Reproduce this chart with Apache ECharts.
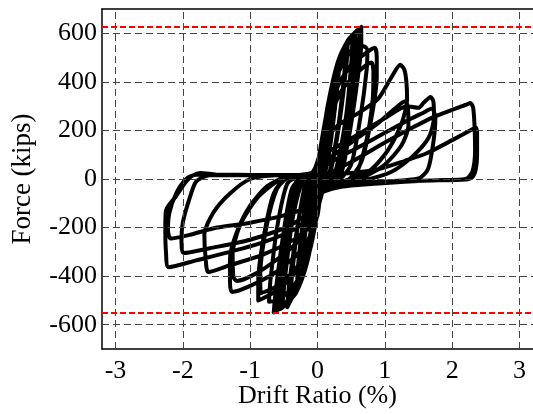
<!DOCTYPE html>
<html>
<head>
<meta charset="utf-8">
<script src="https://cdn.jsdelivr.net/npm/echarts@6/dist/echarts.min.js"></script>
<style>
  html, body { margin: 0; padding: 0; background: #fff; }
  #chart { width: 533px; height: 414px; }
</style>
</head>
<body>
<div id="chart"></div>
<script>
// tick labels
const xTicks = [-3, -2, -1, 0, 1, 2, 3]
const yTicks = [-600, -400, -200, 0, 200, 400, 600]
// capacity lines (kips)
const limitLines = [625, -550]

// hysteresis loops, [drift ratio %, force kips]
const loop01 = [[0, 0], [0.05, 90], [0.1, 170], [0.12, 205], [0.1, 160], [0.04, 40], [0, -20], [-0.05, -100], [-0.1, -180], [-0.12, -210], [-0.1, -160], [-0.04, -30], [0, 20]]
const loop02 = [[0.05, 100], [0.12, 210], [0.2, 310], [0.22, 335], [0.19, 260], [0.12, 90], [0.05, -10], [0, -70], [-0.08, -190], [-0.16, -290], [-0.22, -340], [-0.2, -270], [-0.12, -80], [-0.05, 15]]
const loop03 = [[0.02, 70], [0.12, 230], [0.22, 370], [0.3, 440], [0.32, 450], [0.28, 340], [0.18, 120], [0.08, -15], [0.02, -70], [-0.08, -220], [-0.18, -350], [-0.28, -420], [-0.3, -425], [-0.26, -320], [-0.15, -60], [-0.06, 15]]
const loop03b = [[0, 40], [0.1, 200], [0.2, 340], [0.28, 420], [0.3, 430], [0.26, 300], [0.15, 80], [0.05, -20], [-0.02, -100], [-0.12, -270], [-0.22, -370], [-0.3, -410], [-0.28, -330], [-0.18, -100], [-0.08, 10]]
const loop04 = [[0, 50], [0.12, 250], [0.25, 420], [0.38, 520], [0.45, 560], [0.43, 470], [0.33, 240], [0.2, 40], [0.06, -20], [0, -90], [-0.1, -250], [-0.25, -410], [-0.38, -490], [-0.45, -528], [-0.42, -430], [-0.3, -200], [-0.17, -10], [-0.06, 16]]
const loop04b = [[-0.02, 30], [0.1, 220], [0.22, 390], [0.35, 500], [0.42, 540], [0.4, 440], [0.3, 200], [0.16, 10], [0.03, -40], [-0.06, -200], [-0.2, -380], [-0.34, -470], [-0.4, -500], [-0.38, -400], [-0.27, -150], [-0.12, 5]]
const loop05 = [[0.01, 60], [0.15, 300], [0.3, 480], [0.45, 570], [0.55, 595], [0.56, 580], [0.5, 420], [0.38, 180], [0.24, 10], [0.08, -25], [0.02, -100], [-0.12, -290], [-0.3, -450], [-0.5, -520], [-0.58, -535], [-0.55, -440], [-0.42, -200], [-0.26, -5], [-0.1, 18]]
const loop05b = [[0.02, 80], [0.18, 340], [0.32, 490], [0.46, 560], [0.52, 580], [0.5, 470], [0.42, 250], [0.28, 40], [0.12, -20], [0, -130], [-0.15, -340], [-0.32, -470], [-0.48, -515], [-0.52, -520], [-0.48, -400], [-0.36, -150], [-0.2, 5], [-0.05, 18]]
const loop06 = [[0, 45], [0.15, 280], [0.3, 470], [0.45, 570], [0.58, 610], [0.65, 626], [0.65, 560], [0.58, 380], [0.45, 150], [0.3, 10], [0.1, -25], [0.03, -90], [-0.1, -280], [-0.3, -440], [-0.5, -520], [-0.62, -545], [-0.65, -549], [-0.62, -460], [-0.52, -250], [-0.38, -40], [-0.2, 12], [-0.08, 18]]
const loop06b = [[0, 40], [0.2, 330], [0.38, 520], [0.5, 580], [0.6, 605], [0.62, 590], [0.6, 470], [0.5, 250], [0.36, 30], [0.15, -25], [0.02, -80], [-0.12, -300], [-0.32, -460], [-0.52, -530], [-0.6, -540], [-0.58, -450], [-0.46, -200], [-0.3, 0], [-0.12, 17]]
const loop07 = [[0, 50], [0.15, 290], [0.3, 470], [0.45, 555], [0.56, 581], [0.57, 520], [0.5, 330], [0.38, 110], [0.22, -10], [0.06, -30], [0, -120], [-0.15, -320], [-0.35, -470], [-0.5, -520], [-0.55, -525], [-0.52, -420], [-0.42, -200], [-0.3, -20], [-0.12, 16]]
const loop08 = [[0, 55], [0.15, 270], [0.3, 430], [0.45, 510], [0.6, 550], [0.7, 545], [0.74, 532], [0.73, 450], [0.64, 260], [0.5, 60], [0.3, -10], [0.08, -30], [0.02, -110], [-0.12, -300], [-0.35, -440], [-0.6, -500], [-0.72, -505], [-0.7, -420], [-0.6, -200], [-0.45, -20], [-0.25, 14], [-0.08, 18]]
const loop09 = [[-0.02, 40], [0.1, 200], [0.3, 380], [0.5, 470], [0.7, 515], [0.85, 540], [0.88, 500], [0.88, 420], [0.8, 250], [0.65, 70], [0.45, -5], [0.15, -25], [0.03, -70], [-0.05, -200], [-0.25, -350], [-0.55, -450], [-0.8, -490], [-0.88, -500], [-0.88, -420], [-0.8, -240], [-0.65, -60], [-0.45, 10], [-0.15, 18]]
const loop09b = [[0, 40], [0.15, 220], [0.35, 360], [0.6, 440], [0.8, 480], [0.83, 440], [0.82, 330], [0.72, 150], [0.55, 10], [0.25, -20], [0.04, -60], [-0.05, -190], [-0.3, -360], [-0.6, -440], [-0.84, -470], [-0.85, -400], [-0.76, -200], [-0.6, -40], [-0.4, 12], [-0.12, 18]]
const loop10 = [[-0.05, 35], [0.1, 150], [0.3, 220], [0.6, 270], [0.9, 330], [1.1, 420], [1.23, 470], [1.29, 450], [1.32, 400], [1.33, 330], [1.25, 230], [1.05, 120], [0.8, 40], [0.5, 0], [0.2, -25], [0.05, -50], [0, -150], [-0.2, -280], [-0.6, -380], [-1.0, -440], [-1.27, -465], [-1.3, -420], [-1.3, -330], [-1.2, -220], [-1.0, -110], [-0.75, -30], [-0.5, 5], [-0.2, 16]]
const loop10b = [[-0.05, 25], [0.2, 90], [0.5, 150], [0.9, 230], [1.15, 290], [1.3, 320], [1.34, 300], [1.35, 220], [1.25, 140], [1.0, 60], [0.7, 10], [0.3, -20], [0.05, -50], [0, -130], [-0.3, -260], [-0.8, -370], [-1.2, -420], [-1.25, -400], [-1.26, -310], [-1.15, -190], [-0.9, -80], [-0.6, -10], [-0.3, 15]]
const loop11 = [[-0.05, 30], [0.1, 100], [0.4, 150], [0.7, 200], [1.0, 250], [1.33, 300], [1.5, 293], [1.58, 315], [1.68, 338], [1.72, 320], [1.73, 255], [1.65, 170], [1.4, 90], [1.1, 30], [0.7, -5], [0.2, -30], [0.05, -55], [0, -140], [-0.3, -240], [-0.8, -310], [-1.3, -355], [-1.62, -383], [-1.66, -330], [-1.68, -230], [-1.55, -140], [-1.3, -60], [-1.0, 0], [-0.6, 15], [-0.2, 16]]
const loop12 = [[-0.05, 25], [0.2, 70], [0.6, 130], [1.0, 190], [1.33, 240], [1.55, 270], [1.7, 290], [1.75, 250], [1.72, 150], [1.64, 40], [1.5, 2], [1.0, -10], [0.4, -22], [0.05, -55], [0, -110], [-0.4, -190], [-1.0, -250], [-1.6, -285], [-1.99, -305], [-2.02, -260], [-2.0, -180], [-1.9, -80], [-1.8, -10], [-1.6, 15], [-0.9, 16], [-0.2, 16]]
const loop13 = [[-0.1, 18], [0.1, 20], [0.5, 70], [1.0, 150], [1.4, 210], [1.72, 255], [2.0, 285], [2.2, 305], [2.27, 313], [2.31, 295], [2.33, 230], [2.34, 120], [2.3, 30], [2.2, 0], [1.8, -5], [1.2, -10], [0.6, -20], [0.2, -32], [0.04, -58], [0, -120], [-0.3, -200], [-0.8, -260], [-1.3, -300], [-1.8, -335], [-2.21, -363], [-2.25, -300], [-2.26, -200], [-2.25, -130], [-2.1, -70], [-1.95, -10], [-1.85, 15], [-1.74, 25], [-1.5, 18], [-0.8, 15], [-0.15, 15]]
const loop14 = [[0.05, 20], [0.5, 25], [0.9, 40], [1.3, 75], [1.63, 107], [2.0, 160], [2.3, 205], [2.35, 212], [2.37, 190], [2.37, 100], [2.35, 40], [2.3, 8], [2.2, -2], [1.5, -8], [0.6, -25], [0.3, -35], [0.05, -58], [-0.1, -110], [-0.5, -150], [-1.0, -180], [-1.49, -200], [-1.9, -230], [-2.18, -245], [-2.22, -210], [-2.2, -140], [-2.1, -60], [-1.95, 0], [-1.8, 18], [-1.2, 18], [-0.6, 15]]

const loops = [loop01, loop02, loop03, loop03b, loop04, loop04b, loop05, loop05b, loop06, loop06b, loop07, loop08,
  loop09, loop09b, loop10, loop10b, loop11, loop12, loop13, loop14]
const hysteresis = [].concat(...loops)

const font = 'Liberation Serif'
const chart = echarts.init(document.getElementById('chart'))

const gridLines = xTicks.map(v => ({ xAxis: v })).concat(yTicks.map(v => ({ yAxis: v })))

const option = {
  animation: false,
  grid: { left: 102, right: 0, top: 9, bottom: 65, containLabel: false, outerBoundsMode: 'none' },
  xAxis: [
    {
      type: 'value',
      min: -3.2,
      max: 3.2,
      name: 'Drift Ratio (%)',
      nameLocation: 'middle',
      nameGap: 34,
      nameMoveOverlap: false,
      nameTextStyle: { fontFamily: font, fontSize: 26, color: '#000' },
      axisLine: { onZero: false, lineStyle: { color: '#000', width: 1.5 } },
      axisTick: { inside: true, length: 4, customValues: xTicks, lineStyle: { color: '#000' } },
      axisLabel: { customValues: xTicks, margin: 9, fontFamily: font, fontSize: 26, color: '#000' },
      splitLine: { show: false }
    },
    {
      type: 'value',
      position: 'top',
      min: -3.2,
      max: 3.2,
      axisLine: { onZero: false, lineStyle: { color: '#000', width: 1.5 } },
      axisTick: { show: false },
      axisLabel: { show: false },
      splitLine: { show: false }
    }
  ],
  yAxis: {
    type: 'value',
    min: -700,
    max: 700,
    name: 'Force (kips)',
    nameLocation: 'middle',
    nameGap: 66,
    nameMoveOverlap: false,
    nameTextStyle: { fontFamily: font, fontSize: 27, color: '#000' },
    axisLine: { onZero: false, lineStyle: { color: '#000', width: 1.5 } },
    axisTick: { inside: true, length: 4, customValues: yTicks, lineStyle: { color: '#000' } },
    axisLabel: { customValues: yTicks, margin: 5, fontFamily: font, fontSize: 26, color: '#000' },
    splitLine: { show: false }
  },
  series: [
    {
      // dashed grid
      type: 'line',
      data: [],
      silent: true,
      z: 1,
      markLine: {
        silent: true,
        symbol: 'none',
        animation: false,
        label: { show: false },
        lineStyle: { color: '#444', width: 1, type: [7, 4] },
        data: gridLines
      }
    },
    {
      type: 'line',
      data: hysteresis,
      showSymbol: false,
      smooth: 0.25,
      z: 3,
      lineStyle: { color: '#000', width: 4, join: 'round', cap: 'round' }
    },
    {
      // capacity limits
      type: 'line',
      data: [],
      silent: true,
      z: 2,
      markLine: {
        silent: true,
        symbol: 'none',
        animation: false,
        label: { show: false },
        lineStyle: { color: '#ff0000', width: 2, type: [6, 3] },
        data: limitLines.map(v => ({ yAxis: v }))
      }
    }
  ]
}
chart.setOption(option)
</script>
</body>
</html>
